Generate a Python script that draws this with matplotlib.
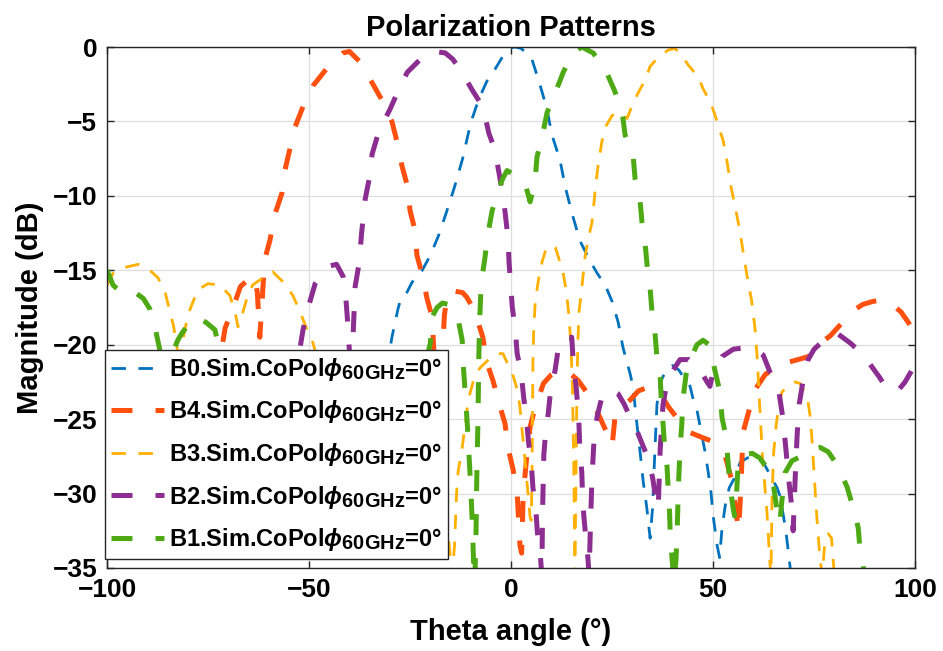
import matplotlib
matplotlib.use('Agg')
import matplotlib.pyplot as plt
import matplotlib._mathtext as mt

plt.rcParams['font.family'] = ['Liberation Sans', 'DejaVu Sans']
plt.rcParams['font.weight'] = 'bold'
plt.rcParams['mathtext.fontset'] = 'custom'
plt.rcParams['mathtext.rm'] = 'Liberation Sans:bold'
plt.rcParams['mathtext.bf'] = 'Liberation Sans:bold'
plt.rcParams['mathtext.it'] = 'Liberation Sans:italic'
mt.SHRINK_FACTOR = 0.85  # nagyobb alsó index, mint a MATLAB-ban

# B0 (kék)
b0_x = [-100, -90, -80, -70, -60, -50, -40, -35, -31, -29.5, -28.7, -28, -27.3, -26, -24.5, -22, -20,
        -18, -16, -14, -12, -10, -8, -6, -4, -2, 0, 1, 2.5, 5, 7, 8.9, 10.1, 12.1, 13.4, 15.1, 17,
        19.6, 21.3, 23.3, 25, 26.5, 27.7, 28.7, 29.5, 30.2, 31.2, 32, 32.7, 33.6, 34.4, 35, 35.6,
        36.1, 37, 38.5, 40, 41.5, 43, 44.3, 45, 46, 47, 48, 48.8, 49.5, 50, 50.5, 51, 51.6, 52.2,
        53, 54, 55.4, 56.7, 58.5, 60, 62.4, 64, 65.8, 66.6, 68, 69.5, 75, 85, 100]
b0_y = [-30, -33, -28, -32, -27, -31, -29, -26, -22, -19.5, -18.5, -17.6, -16.9, -16.6, -15.8, -15, -14,
        -12.7, -11.1, -9.4, -7.5, -5.1, -3.5, -2.3, -1.5, -0.6, -0.05, 0, -0.1, -0.7, -2.4, -4.2, -5.9, -7.6, -9.4, -11.2, -13,
        -14.4, -15.2, -16, -17.1, -18.5, -20.2, -21.2, -22, -22.9, -25.5, -27.4, -29.2, -31, -33, -31, -27,
        -24, -22.5, -21.6, -21.4, -21.7, -22.3, -22.8, -23.6, -24.4, -25.8, -27.2, -28.6, -30, -31.5, -32.5, -33.5, -34.3, -32.3,
        -30.8, -29.6, -28.9, -27.9, -27.6, -27.5, -27.9, -28.7, -29.6, -30.2, -32.5, -36, -40, -42, -40]

# B4 (narancs)
b4_x = [-100, -95, -90, -85, -80, -76, -73, -71.5, -70.8, -68.8, -67, -65, -63.5, -62.8, -62.2, -61.6, -61,
        -59.7, -58.4, -56.7, -56, -54.7, -53.5, -51.5, -49, -45.5, -41.6, -40, -37.4, -34.4, -31.9, -29.5,
        -28.2, -27, -25.7, -25, -23.8, -23.3, -22, -20.8, -19.6, -19.3, -18.8, -18, -17.3, -16.5, -15.8, -14,
        -12, -11, -9.5, -8.4, -7, -6, -4.5, -2.7, -1.5, -0.7, 0.5, 1.5, 2.2, 2.6, 3, 4, 4.7, 6, 8, 10, 12,
        14, 16.6, 19.5, 22, 24, 25, 25.7, 27.5, 29.5, 31.5, 33.5, 35.5, 37.4, 39, 41, 44.3, 47, 49.8, 51.7,
        53, 54.7, 55.8, 56.3, 56.8, 57.4, 58.7, 60.4, 62.9, 65, 68.3, 71, 73.5, 75, 77, 79, 81, 83, 84.7,
        87, 89.4, 91.5, 93, 94.3, 96.5, 98.3, 100]
b4_y = [-30, -26, -28, -32, -26, -23, -21, -20.1, -18.9, -17.5, -16.1, -15.6, -15.4, -16.5, -19.5, -17, -14.3,
        -13, -11.2, -9.8, -8.3, -6.8, -5.4, -4, -2.6, -1.4, -0.4, -0.3, -1, -2.4, -3.6, -5,
        -6.4, -8, -9.3, -11, -12.3, -14, -15.3, -16.9, -18.1, -19.5, -22, -28, -22, -18, -16.6, -16.4,
        -16.5, -16.8, -17.5, -18.3, -19.5, -21.2, -22.4, -24.2, -25.3, -27, -28.4, -30, -33.5, -34, -30, -27.2, -25.5, -24.2, -22.6, -22, -21.7,
        -21.8, -22.4, -23.5, -24.9, -26.1, -26.8, -24.9, -24.2, -23.7, -23.1, -22.9, -23, -23.5, -24.2, -24.9, -25.9, -26.2, -26.5, -27,
        -27.5, -29.2, -31.5, -32.5, -30, -25.9, -24.6, -23, -22, -21.6, -21.2, -21, -20.8, -20.5, -19.8, -19.4, -18.8, -18.2, -17.7,
        -17.3, -17.1, -17, -17.1, -17.3, -17.8, -18.5, -19.3]

# B3 (sárga)
b3_x = [-100, -98.5, -95.5, -92.3, -89.4, -87.4, -85.6, -84.5, -83.5, -82.5, -81.8, -81, -80, -78.7, -77.5,
        -75, -72, -69.6, -68.3, -67.6, -66.8, -65.5, -64, -61.4, -59, -56, -54, -52.7, -51.5, -50.5, -49,
        -47.5, -45, -40, -35, -30, -25, -21, -18, -16.5, -15.5, -14.6, -14, -13.5, -13.1, -12.1, -11.4,
        -10.6, -9.7, -8.9, -7.5, -5.2, -3.5, -2, -1, 0.5, 1.5, 2.2, 2.7, 3.2, 3.8, 4.3, 4.7, 5, 5.2, 5.3,
        5.4, 5.6, 6, 6.8, 7.7, 8.6, 10, 11, 11.8, 12.9, 13.7, 14.3, 14.8, 15.2, 15.5, 15.8, 16, 16.2, 16.5,
        16.8, 17.4, 18.3, 19, 20, 20.5, 20.8, 21.5, 22.5, 23.3, 25, 27, 28.7, 30, 31.4, 33.2, 34.4, 36.4,
        38.9, 40.5, 41.8, 43.8, 46.3, 47.5, 49.3, 50.5, 51.5, 52.5, 53.5, 54.5, 55.5, 56.5, 57.4, 58.4,
        59.5, 60.4, 61, 61.3, 61.8, 62.2, 62.8, 63.3, 63.7, 64, 64.3, 64.6, 65, 65.6, 66.3, 67, 68.6, 70.2,
        71.5, 73.3, 74, 74.5, 74.9, 75.4, 75.9, 76.5, 77, 77.6, 78.5, 79.3, 80, 85, 100]
b3_y = [-16, -15.2, -14.8, -14.6, -15, -15.5, -16.5, -17.7, -18.8, -20.5, -20.6, -19.4, -18, -17.1, -16.3,
        -15.9, -16, -16.7, -17.8, -18.8, -18.2, -17, -16, -15.5, -15.1, -15.9, -16.7, -17.5, -18.3, -19, -19.9,
        -21.5, -24, -27, -25, -29, -26, -28, -30.5, -32, -33, -35.5, -33.5, -30, -28.5, -26.9, -25.4,
        -23.7, -22.8, -22, -21.5, -20.9, -20.6, -20.6, -21.2, -22.1, -23, -24.2, -25.7, -27, -28.9, -30.3, -31.6, -31.8, -28, -24,
        -21, -19, -17, -15.6, -14.4, -13.6, -13.3, -13.5, -14.2, -15.2, -16.5, -18, -20, -23, -28, -35.5, -30, -25, -20,
        -17.8, -16.4, -14.1, -13, -11.8, -10.5, -9.6, -8, -6.3, -5.4, -4.6, -4.4, -4.8, -3.9, -3.1, -2.2, -1.3, -0.7,
        -0.2, -0.1, -0.4, -1.2, -2, -2.8, -3.7, -4.6, -5.5, -6.3, -7.8, -9.5, -10.8, -12.2, -13.7, -15.4,
        -17, -19, -21.3, -23, -25.5, -27.5, -29.5, -31.2, -33, -34.5, -35.5, -30, -27.2, -25.4, -24, -23.2, -22.7, -22.5,
        -22.6, -23.5, -24.8, -26.5, -28.3, -30.5, -32.5, -34.5, -35.5, -33.4, -32.7, -33, -35.5, -40, -42]

# B2 (lila)
b2_x = [-100, -90, -80, -70, -60, -55, -53, -51.5, -50, -48.5, -46.5, -44.8, -43.2, -41.6, -41, -40.5, -40,
        -39.6, -39.2, -38.6, -37.6, -37, -36.1, -35, -34.4, -33, -31.5, -30, -28.2, -25.7, -22, -19, -16.3,
        -14.5, -12.6, -9.6, -7.5, -6.5, -5.5, -4, -2.7, -2, -1.4, -0.8, -0.5, -0.1, 0.3, 1, 1.5, 2.5, 3.1,
        3.8, 4.3, 5, 5.4, 6.1, 6.5, 7.2, 7.6, 7.8, 8.1, 8.5, 9.2, 9.8, 10.9, 11.8, 13, 15, 15.4, 16, 16.4,
        16.8, 17, 17.5, 17.7, 18, 18.5, 19, 19.3, 19.6, 20, 20.5, 21.3, 22.5, 24.5, 26.5, 28, 29.5, 31.3,
        33.7, 35, 35.8, 36.4, 36.9, 37.6, 38.6, 39.4, 41.8, 44, 46.3, 48.5, 49.2, 50, 52.2, 55, 58, 60.5,
        62.4, 64.6, 66.3, 67.3, 68, 68.6, 69.3, 69.8, 70.3, 70.8, 71.3, 72.2, 73.5, 75, 77, 79, 81, 82.5,
        84, 86, 88, 89.6, 91.2, 92.6, 94.5, 96, 97.5, 99, 100]
b2_y = [-28, -31, -25, -29, -24, -26, -21.5, -19, -17.3, -15.9, -15.1, -14.7, -14.6, -15.4, -16.5, -18.3, -20.5,
        -24, -20, -16.1, -14.5, -12.5, -10.2, -8.7, -7.2, -5.9, -5, -4.2, -3.1, -1.7, -0.7, -0.3, -0.4,
        -0.8, -1.5, -2.9, -3.8, -4.6, -5.8, -6.9, -8.9, -10, -11.3, -12.8, -14.5, -16, -17.5, -18.9, -20.6, -21.9, -23.5,
        -25, -26.5, -28, -29.6, -31, -32.6, -34, -35.5, -31, -27.4, -26, -24.6, -23, -21.7, -20, -19.5, -19.5, -21.2, -22.6, -23.8,
        -25.4, -27, -28.6, -30.3, -31.5, -33, -34.3, -35.5, -32.5, -29, -26.5, -24.8, -23.5, -23, -23.3, -24, -24.9, -25.9,
        -27.5, -28.9, -30.3, -31, -27, -24, -22.5, -22, -21, -21, -21.5, -22.5, -22.8, -21.8, -20.8, -20.3, -20.2, -20.3,
        -20.7, -22.2, -23.2, -25, -27, -28.8, -30.5, -32.5, -29, -26, -24, -22.5, -21, -20.3, -19.8, -19.3, -19.3, -19.6,
        -19.9, -20.4, -21, -21.6, -22.2, -22.8, -23.2, -23, -22.5, -21.8, -21.3]

# B1 (zöld)
b1_x = [-100, -98.5, -96, -93, -91, -89.4, -88, -86.9, -85.5, -84.5, -83.7, -82.5, -81.4, -79.5, -77.5,
        -75.5, -73.3, -72, -70, -65, -60, -55, -50, -45, -40, -35, -30, -25, -22, -20.5, -20, -19.5, -18.3,
        -17, -15.5, -14, -13.1, -12.1, -11.8, -11.3, -10.8, -10.4, -10, -9.6, -9.3, -9, -8.7, -8.5, -8.2,
        -8, -7.8, -7.5, -7.2, -6.5, -5.7, -4.7, -3.2, -2, -1, 1, 2.5, 3.5, 4.3, 4.7, 5.9, 6.4, 7.7, 8.9,
        10.9, 12.9, 15.3, 17.5, 20.3, 23.3, 25.7, 27.5, 28.2, 30.2, 30.7, 31.9, 32.4, 33.2, 33.7, 34.4,
        34.9, 35.6, 36.1, 36.9, 37.2, 37.6, 38, 38.6, 38.9, 39.2, 39.4, 39.8, 40.3, 40.8, 41.1, 41.3, 41.5,
        41.8, 42.2, 42.6, 43.3, 44.3, 46, 47.5, 49, 50.5, 51.7, 52.2, 53.2, 53.7, 54.2, 54.9, 55.3, 55.8,
        56.2, 57.5, 59.7, 61.5, 63.1, 65, 65.8, 66.5, 67, 67.8, 69.5, 71.8, 74, 76.5, 78.5, 81, 83.2,
        84.7, 85.9, 86.4, 87.1, 88, 92, 100]
b1_y = [-15, -16, -16.6, -16.5, -16.9, -17.6, -19, -20.4, -22.5, -22, -20.5, -19.7, -19.2, -18.5, -18.2,
        -18.5, -19, -20.5, -23, -27, -24, -29, -25, -30, -26, -31, -27, -30, -24, -20.5, -19.9, -18.1, -17.5,
        -17.2, -17.3, -17.8, -18.3, -19.7, -21.5, -23.5, -25.5, -27.5, -29.5, -32, -34.5, -36, -33, -29, -25,
        -21, -18.5, -16.5, -15.5, -14.2, -12.5, -11, -9.6, -8.8, -8.3, -8.6, -8.9, -9.2, -10, -10.4, -9.1, -7.4, -6, -4.4,
        -3.1, -1.7, -0.4, 0, -0.4, -1.5, -3, -4.4, -5.9, -7.3, -8.9, -10.3, -11.8, -13.3, -14.8, -16.2,
        -17.9, -19.2, -20.9, -22.2, -23.9, -25.3, -26.9, -28.2, -29.9, -31.2, -32.9, -34.3, -36, -34.5, -32.5, -30.5, -28.9,
        -27, -25.5, -23.5, -22, -21, -20, -19.7, -20, -21.8, -23.2, -24.9, -26.2, -27.9, -29.5, -30.9, -31.5, -30,
        -27.9, -27.4, -27.3, -27.6, -28.2, -29.6, -31.1, -32, -30.5, -28.6, -27.8, -27.5, -27.1, -26.9, -27.2, -28.2, -29.6,
        -31, -32.3, -33.9, -34.8, -37, -42, -45]

labels = ['B0', 'B4', 'B3', 'B2', 'B1']
szinek = ['#0072BD', '#FF5010', '#FFB000', '#8C2D91', '#4DAA14']
vastag = [2.0, 3.6, 2.0, 3.6, 3.6]
adatok = [(b0_x, b0_y), (b4_x, b4_y), (b3_x, b3_y), (b2_x, b2_y), (b1_x, b1_y)]

fig = plt.figure(figsize=(9.43, 6.51), dpi=100)
ax = fig.add_axes([0.1135, 0.1275, 0.857, 0.8003])

for (x, y), nev, c, lw in zip(adatok, labels, szinek, vastag):
    if lw < 3:
        dash = (5.2, 4.5)
    else:
        dash = (4.2, 4.6)
    ax.plot(x, y, color=c, linewidth=lw, linestyle=(0, dash),
            label=nev + r'.Sim.CoPol$\phi_{\mathbf{60GHz}}$=0°')

ax.set_xlim(-100, 100)
ax.set_ylim(-35, 0)
ax.set_xticks([-100, -50, 0, 50, 100])
ax.set_yticks([-35, -30, -25, -20, -15, -10, -5, 0])
ax.grid(True, color='#dedede', linewidth=0.9)
ax.set_axisbelow(True)
ax.tick_params(direction='in', length=5, width=1, top=True, right=True,
               labelsize=19, colors='#262626', pad=7)
for lab in ax.get_xticklabels() + ax.get_yticklabels():
    lab.set_fontweight('bold')
    lab.set_color('black')
for s in ax.spines.values():
    s.set_linewidth(1.0)
    s.set_color('#262626')

ax.set_title('Polarization Patterns', fontsize=21, fontweight='bold', pad=8)
ax.set_xlabel('Theta angle (°)', fontsize=21, fontweight='bold', labelpad=12)
ax.set_ylabel('Magnitude (dB)', fontsize=21, fontweight='bold', labelpad=6)

leg = ax.legend(loc='lower left', bbox_to_anchor=(-0.002, 0.017),
                prop={'weight': 'bold', 'size': 17}, handlelength=2.25,
                fancybox=False, framealpha=1, edgecolor='#262626',
                borderaxespad=0, labelspacing=0.66, handletextpad=0.2,
                borderpad=0.25)
leg.get_frame().set_linewidth(1.0)

plt.savefig('out.png', dpi=100)
